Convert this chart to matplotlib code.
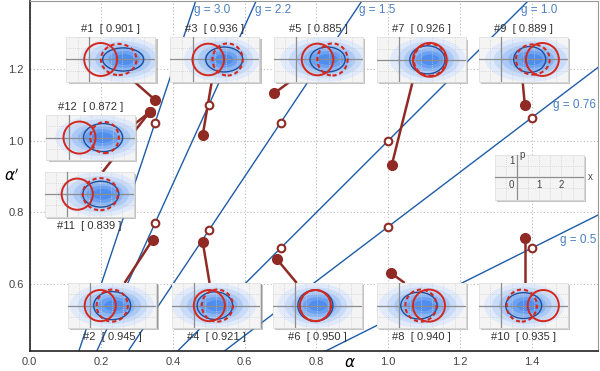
import numpy as np
import matplotlib
matplotlib.use("Agg")
import matplotlib.pyplot as plt
from matplotlib.patches import Ellipse, Rectangle

plt.rcParams['font.family'] = ['Liberation Sans', 'DejaVu Sans']

# gain lines alpha' = g * alpha
g_values = [3.0, 2.2, 1.5, 1.0, 0.76, 0.5]
g_labels = ["g = 3.0", "g = 2.2", "g = 1.5", "g = 1.0", "g = 0.76", "g = 0.5"]
g_label_pos = [(0.46, 1.365), (0.63, 1.365), (0.92, 1.365), (1.37, 1.365), (1.46, 1.10), (1.48, 0.723)]

# open circles: target points
open_a = [0.35, 0.35, 0.5, 0.5, 0.7, 0.7, 1.0, 1.0, 1.4, 1.4]
open_ap = [1.05, 0.77, 1.10, 0.75, 1.05, 0.70, 1.00, 0.76, 1.064, 0.70]

# inset panels (state id, fidelity) and the measured point each one belongs to
panel_id = [1, 3, 5, 7, 9, 12, 11, 2, 4, 6, 8, 10]
fidelity = [0.901, 0.936, 0.885, 0.926, 0.889, 0.872, 0.839, 0.945, 0.921, 0.950, 0.940, 0.935]
meas_a = [0.351, 0.483, 0.683, 1.010, 1.381, 0.335, 0.335, 0.343, 0.483, 0.689, 1.007, 1.381]
meas_ap = [1.113, 1.016, 1.133, 0.932, 1.100, 1.080, 1.080, 0.723, 0.717, 0.670, 0.631, 0.729]

# phase-space content of each panel (x centres, radii) in panel units
red_cx = [0.54, 0.70, 0.97, 1.39, 1.87, 0.49, 0.47, 0.47, 0.70, 0.92, 1.35, 1.91]
red_r = [0.74, 0.71, 0.71, 0.76, 0.74, 0.72, 0.70, 0.70, 0.70, 0.70, 0.72, 0.70]
dash_cx = [1.35, 1.57, 1.64, 1.39, 1.44, 1.62, 1.51, 1.01, 1.06, 0.92, 0.99, 0.94]
dash_rx = [0.80, 0.68, 0.68, 0.72, 0.76, 0.64, 0.79, 0.70, 0.70, 0.70, 0.70, 0.68]
dash_ry = [0.70, 0.72, 0.72, 0.72, 0.68, 0.70, 0.72, 0.72, 0.72, 0.70, 0.72, 0.72]
blue_cx = [1.55, 1.42, 1.42, 1.28, 1.30, 1.55, 1.53, 1.01, 0.95, 0.92, 0.90, 1.03]
blue_rx = [0.92, 0.83, 0.79, 0.79, 0.72, 0.88, 0.81, 0.83, 0.80, 0.79, 0.82, 0.81]
blue_ry = [0.52, 0.56, 0.56, 0.63, 0.58, 0.63, 0.58, 0.63, 0.62, 0.70, 0.60, 0.58]
blob_cx = [1.5, 1.3, 1.3, 1.3, 1.3, 1.4, 1.5, 1.0, 0.9, 0.92, 1.0, 1.05]
blob_rx = [1.9, 1.7, 2.0, 1.7, 2.0, 2.0, 1.9, 1.9, 1.9, 1.7, 1.9, 1.8]

# layout of panels: lower-left corner in data units, label placement, connector anchor
panel_xy = [(0.103, 1.164), (0.393, 1.164), (0.681, 1.164), (0.968, 1.163), (1.252, 1.164),
            (0.047, 0.946), (0.042, 0.788),
            (0.106, 0.477), (0.396, 0.477), (0.678, 0.477), (0.968, 0.477), (1.252, 0.477)]
label_above = [True, True, True, True, True, True, False, False, False, False, False, False]
anchor = [(0.293, 1.164), (0.508, 1.164), (0.725, 1.164), (1.068, 1.164), (1.375, 1.164),
          (0.290, 1.044), (0.204, 0.913),
          (0.265, 0.603), (0.502, 0.603), (0.745, 0.603), (1.046, 0.603), (1.381, 0.603)]
PW, PH = 0.248, 0.1255

BLUE = "#1d5ca8"
RED = "#d3281e"
DARKRED = "#8f2a25"
blob_cols = ["#e1eafb", "#c8dbf9", "#abc9f7", "#8cb5f4", "#6ca1f1", "#4f8eee"]
blob_scale = [1.0, 0.82, 0.66, 0.52, 0.38, 0.24]

fig = plt.figure(figsize=(6.0, 3.71), dpi=100)
ax = fig.add_axes([29.5 / 600, 20 / 371, 568.5 / 600, 350 / 371])
ax.set_xlim(0, 1.585)
ax.set_ylim(0.413, 1.39)
ax.set_xticks(np.arange(0, 1.41, 0.2))
ax.set_yticks([0.6, 0.8, 1.0, 1.2])
ax.set_xticklabels([f"{v:.1f}" for v in np.arange(0, 1.41, 0.2)])
ax.set_yticklabels(["0.6", "0.8", "1.0", "1.2"])
ax.tick_params(length=0, labelsize=8, labelcolor="#444444", pad=4)
ax.grid(True, color="#bbbbbb", lw=0.8, ls=(0, (1, 2)))
for s in ["left", "bottom"]:
    ax.spines[s].set_color("#222222")
    ax.spines[s].set_linewidth(1.2)
for s in ["top", "right"]:
    ax.spines[s].set_color("#999999")
    ax.spines[s].set_linewidth(0.8)
ax.set_xlabel(r"$\alpha$", fontsize=11)
ax.xaxis.set_label_coords(0.564, -0.014)
ax.set_ylabel(r"$\alpha'$", fontsize=11, rotation=0, va="center", ha="center")
ax.yaxis.set_label_coords(-0.031, 0.5)

xs = np.array([0, 1.6])
for g, lab, (tx, ty) in zip(g_values, g_labels, g_label_pos):
    ax.plot(xs, g * xs, color=BLUE, lw=1.0, zorder=2)
    ax.text(tx, ty, lab, color="#4a7fc2", fontsize=8.5, ha="left", va="center", zorder=3)

# connectors and measured points
for i in range(len(panel_id)):
    ax.plot([anchor[i][0], meas_a[i]], [anchor[i][1], meas_ap[i]], color=DARKRED,
            lw=1.8, zorder=3, solid_capstyle="butt")
ax.plot(meas_a, meas_ap, "o", color=DARKRED, ms=7, zorder=3.5, ls="none")
ax.plot(open_a, open_ap, "o", mfc="white", mec=DARKRED, mew=1.5, ms=5.5, zorder=3.6, ls="none")


def panel(x0, y0, zo=5):
    ax.add_patch(Rectangle((x0 + 0.006, y0 - 0.006), PW, PH, color="#9c9c9c", alpha=0.6,
                           lw=0, zorder=4.5))
    ax.add_patch(Rectangle((x0 + 0.003, y0 - 0.003), PW, PH, color="#8a8a8a", alpha=0.7,
                           lw=0, zorder=4.6))
    ins = ax.inset_axes([x0, y0, PW, PH], transform=ax.transData, zorder=zo)
    ins.set_xlim(-1, 3)
    ins.set_ylim(-1.01, 1.01)
    ins.set_facecolor("#f4f4f4")
    ins.set_xticks(np.arange(-0.5, 3, 0.5))
    ins.set_yticks([-0.5, 0.5])
    ins.tick_params(length=0, labelbottom=False, labelleft=False)
    ins.grid(True, color="#cfcfcf", lw=0.6, ls=(0, (1, 1.5)))
    for s in ins.spines.values():
        s.set_color("#e2e2e2")
        s.set_linewidth(0.6)
    ins.axhline(0, color="#8d8d8d", lw=0.9, zorder=3)
    ins.axvline(0, color="#8d8d8d", lw=0.9, zorder=3)
    return ins


for i in range(len(panel_id)):
    x0, y0 = panel_xy[i]
    ins = panel(x0, y0)
    for sc, col in zip(blob_scale, blob_cols):
        ins.add_patch(Ellipse((blob_cx[i] + (1 - sc) * 0.15, 0), 2 * blob_rx[i] * sc,
                              2 * 1.0 * sc, color=col, lw=0, zorder=1))
    ins.add_patch(Ellipse((blue_cx[i], 0), 2 * blue_rx[i], 2 * blue_ry[i], fill=False,
                          ec="#1d4f9c", lw=1.0, zorder=4))
    ins.add_patch(Ellipse((dash_cx[i], 0), 2 * dash_rx[i], 2 * dash_ry[i], fill=False,
                          ec=RED, lw=1.5, ls=(0, (2, 1.4)), zorder=5))
    ins.add_patch(Ellipse((red_cx[i], 0), 2 * red_r[i], 2 * red_r[i], fill=False,
                          ec=RED, lw=1.4, zorder=5))
    ty = y0 + PH + 0.022 if label_above[i] else y0 - 0.025
    ax.text(x0 + PW / 2, ty, f"#{panel_id[i]}  [ {fidelity[i]:.3f} ]", ha="center",
            va="center", fontsize=8, color="#333333", zorder=6)

# key panel
lx0, ly0 = 1.297, 0.835
key = panel(lx0, ly0)
key.text(-0.12, -0.1, "0", ha="right", va="top", fontsize=7, color="#444444")
key.text(1.0, -0.1, "1", ha="center", va="top", fontsize=7, color="#444444")
key.text(2.0, -0.1, "2", ha="center", va="top", fontsize=7, color="#444444")
key.text(-0.12, 0.95, "1", ha="right", va="top", fontsize=7, color="#444444")
key.text(0.1, 1.0, "p", ha="left", va="center", fontsize=7, color="#444444")
ax.text(lx0 + PW + 0.012, ly0 + PH / 2, "x", ha="left", va="center", fontsize=7,
        color="#444444", zorder=6)

fig.savefig("out.png", dpi=100)
